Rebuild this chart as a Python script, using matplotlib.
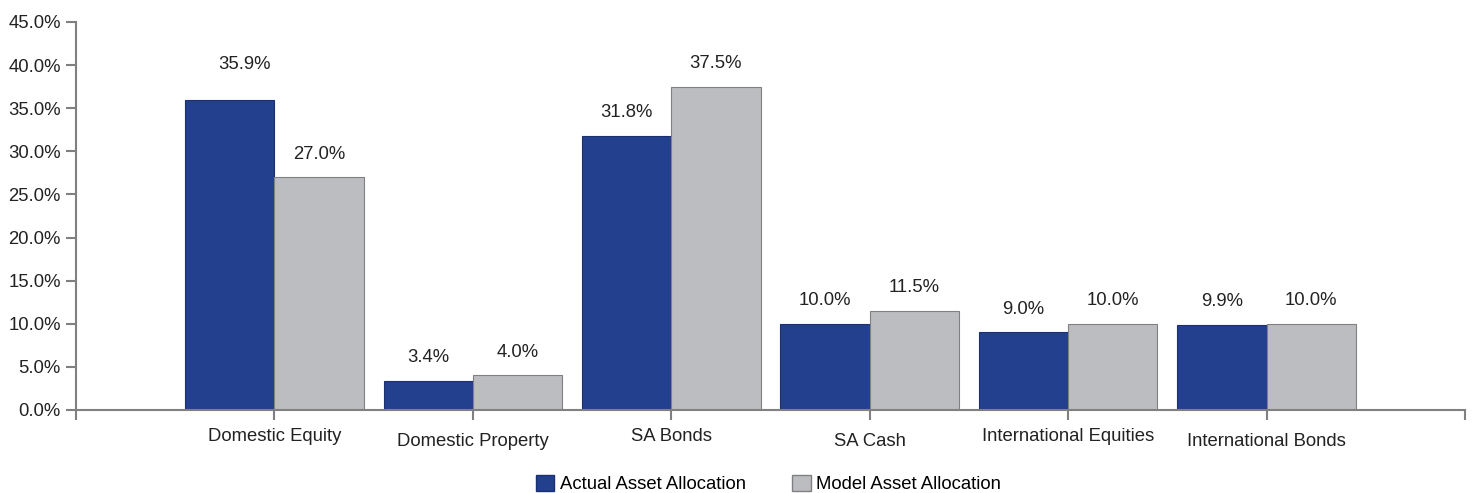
import numpy as np
import matplotlib.pyplot as plt
from matplotlib.ticker import FuncFormatter
from matplotlib.patches import Patch

plt.rcParams['font.family'] = ['Liberation Sans', 'DejaVu Sans']

categories = ['Domestic Equity', 'Domestic Property', 'SA Bonds', 'SA Cash',
              'International Equities', 'International Bonds']
actual = [35.9, 3.4, 31.8, 10.0, 9.0, 9.9]
model = [27.0, 4.0, 37.5, 11.5, 10.0, 10.0]

navy = '#23408e'
grey = '#bcbdc1'
axis_col = '#808080'
text_col = '#222222'
fs = 13.3

fig = plt.figure(figsize=(14.73, 4.93), dpi=100)
ax = fig.add_axes([0.0516, 0.1684, 0.9430, 0.787])

x = np.arange(len(categories))
w = 0.45
b1 = ax.bar(x - w / 2, actual, w, color=navy, edgecolor='#1c2f6e', linewidth=0.8)
b2 = ax.bar(x + w / 2, model, w, color=grey, edgecolor=axis_col, linewidth=0.8)

# value labels (the 35.9% one was nudged in the original)
for bars, vals in ((b1, actual), (b2, model)):
    for rect, v in zip(bars, vals):
        dx, dy = (15, 36) if v == 35.9 else (0, 23)
        ax.annotate('%.1f%%' % v, (rect.get_x() + rect.get_width() / 2, v),
                    xytext=(dx * 0.72, dy * 0.72), textcoords='offset points',
                    ha='center', va='center', fontsize=fs, color=text_col)

ax.set_xlim(-1, len(categories))
ax.set_ylim(0, 45)
ax.set_yticks(np.arange(0, 46, 5))
ax.yaxis.set_major_formatter(FuncFormatter(lambda v, p: '%.1f%%' % v))

ax.set_xticks(np.arange(-1, len(categories) + 1))
ax.set_xticklabels([''] + categories + [''])
for i, lab in enumerate(ax.get_xticklabels()):
    lab.set_y(0.0 if i % 2 == 1 else -0.013)

for s in ['top', 'right']:
    ax.spines[s].set_visible(False)
for s in ['left', 'bottom']:
    ax.spines[s].set_color(axis_col)
    ax.spines[s].set_linewidth(1.5)

ax.tick_params(axis='both', colors=axis_col, width=1.5, length=7,
               labelcolor=text_col, labelsize=fs)
ax.tick_params(axis='x', pad=6)
ax.tick_params(axis='y', pad=4)

handles = [Patch(facecolor=navy, edgecolor='#1c2f6e', label='Actual Asset Allocation'),
           Patch(facecolor=grey, edgecolor=axis_col, label='Model Asset Allocation')]
fig.legend(handles=handles, loc='center', bbox_to_anchor=(0.5217, 9 / 493), ncol=2,
           frameon=False, fontsize=fs, handlelength=1.0, handleheight=1.0,
           handletextpad=0.3, columnspacing=2.5, borderpad=0)

fig.savefig('out.png', dpi=100)
